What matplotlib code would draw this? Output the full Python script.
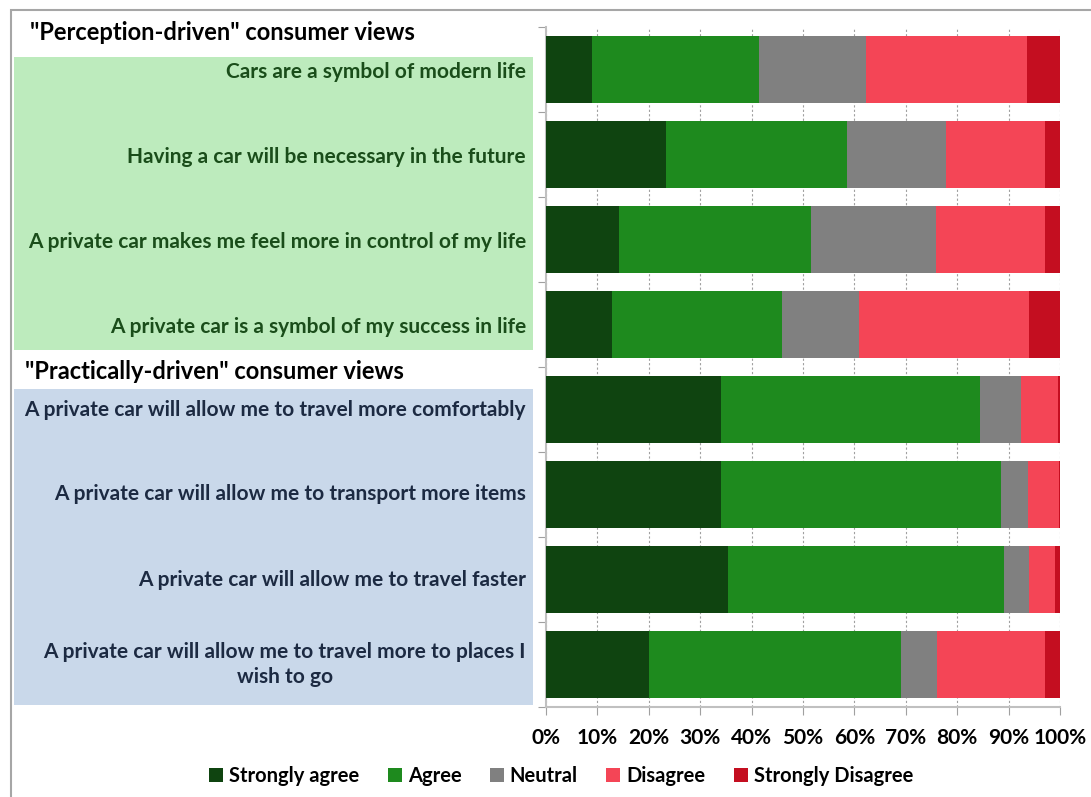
import numpy as np
import matplotlib
matplotlib.use("Agg")
import matplotlib.pyplot as plt
from matplotlib.patches import Rectangle
from matplotlib.transforms import blended_transform_factory

plt.rcParams['font.family'] = ['Lato', 'DejaVu Sans']
plt.rcParams['font.weight'] = 'bold'

# survey statements (top to bottom) and answer shares in %
statements = [
    "Cars are a symbol of modern life",
    "Having a car will be necessary in the future",
    "A private car makes me feel more in control of my life",
    "A private car is a symbol of my success in life",
    "A private car will allow me to travel more comfortably",
    "A private car will allow me to transport more items",
    "A private car will allow me to travel faster",
    "A private car will allow me to travel more to places I\nwish to go",
]
strongly_agree = [8.9, 23.3, 14.2, 12.9, 34.1, 34.1, 35.4, 20.0]
agree = [32.8, 35.3, 37.3, 33.1, 50.3, 54.5, 53.7, 49.0]
neutral = [20.8, 19.2, 24.3, 14.9, 8.1, 5.2, 4.9, 7.1]
disagree = [31.6, 19.3, 21.3, 33.1, 7.1, 6.0, 5.1, 21.0]
strongly_disagree = [6.4, 2.9, 2.9, 6.0, 0.4, 0.2, 0.9, 2.9]

series = ["Strongly agree", "Agree", "Neutral", "Disagree", "Strongly Disagree"]
colors = ["#0f4410", "#1e8a1e", "#808080", "#f44556", "#c40e20"]
group_titles = ['"Perception-driven" consumer views', '"Practically-driven" consumer views']

W, H = 1091, 797
fig = plt.figure(figsize=(W / 100, H / 100), dpi=100)
ax = fig.add_axes([546 / W, 1 - 707 / H, 514 / W, 680 / H])

values = np.array([strongly_agree, agree, neutral, disagree, strongly_disagree])
values = values / values.sum(axis=0) * 100
y = np.arange(len(statements))
left = np.zeros(len(statements))
for name, vals, col in zip(series, values, colors):
    ax.barh(y, vals, left=left, height=0.79, color=col, label=name, zorder=3)
    left += vals

ax.set_xlim(0, 100)
ax.set_ylim(len(statements) - 0.5, -0.5)
ax.set_xticks(np.arange(0, 101, 10))
ax.set_xticklabels([f"{v}%" for v in range(0, 101, 10)], fontsize=15, fontweight='bold')
ax.tick_params(axis='x', length=6, color='#a0a0a0', pad=9)
ax.set_yticks(np.arange(-0.5, len(statements), 1))
ax.set_yticklabels([])
ax.tick_params(axis='y', length=6, color='#a0a0a0')
ax.grid(axis='x', color='#a0a0a0', linestyle=(0, (2, 2)), linewidth=0.8, zorder=0)
for s in ['top', 'right']:
    ax.spines[s].set_visible(False)
for s in ['left', 'bottom']:
    ax.spines[s].set_color('#c0c0c0')
    ax.spines[s].set_linewidth(1.5)

# left-hand panel: coloured group boxes with statements
tr = blended_transform_factory(fig.transFigure, ax.transData)
fig.patches.append(Rectangle((14 / W, -0.147), 519 / W, 3.447, transform=tr,
                             facecolor='#bdebbd', edgecolor='none', zorder=0))
fig.patches.append(Rectangle((14 / W, 3.76), 519 / W, 3.72, transform=tr,
                             facecolor='#c9d8ea', edgecolor='none', zorder=0))
fig.text(30 / W, -0.43, group_titles[0], transform=tr, fontsize=17,
         fontweight='bold', color='black', va='center')
fig.text(25 / W, 3.55, group_titles[1], transform=tr, fontsize=17,
         fontweight='bold', color='black', va='center')
for i, s in enumerate(statements):
    col = '#1a4d1a' if i < 4 else '#1c2a42'
    yy = i + 0.03 if i < 4 else i
    fig.text(526 / W, yy, s, transform=tr, fontsize=15, fontweight='bold',
             color=col, ha='right', va='center', multialignment='center',
             linespacing=1.3)

# outer frame
fig.patches.append(Rectangle((11 / W, -0.1), 1.2, 1 - 10 / H + 0.1,
                             transform=fig.transFigure, facecolor='none',
                             edgecolor='#a6a6a6', linewidth=1.5, clip_on=False))

fig.legend(loc='center', bbox_to_anchor=(561 / W, 1 - 776 / H), ncol=5,
           frameon=False, handlelength=0.7, handleheight=0.7,
           handletextpad=0.3, columnspacing=1.4, prop={'weight': 'bold', 'size': 14.5})

fig.savefig("out.png", dpi=100)
